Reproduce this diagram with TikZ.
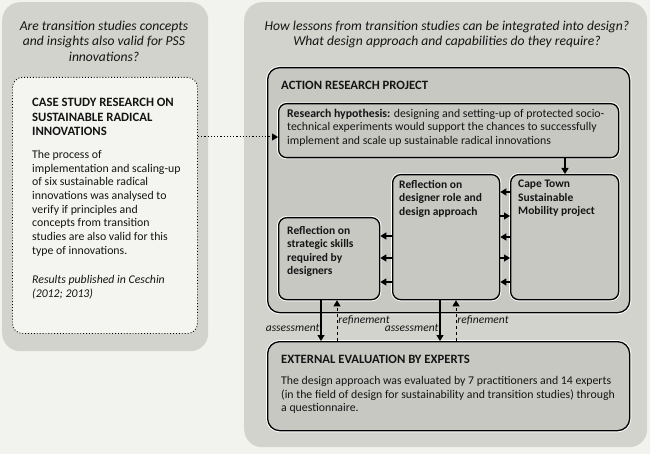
\documentclass[tikz,border=0pt]{standalone}
\usepackage{fontspec}
\setmainfont{Carlito}
\usepackage{tikz}
\usetikzlibrary{arrows.meta}

\definecolor{bgpage}{HTML}{F2F2EE}
\definecolor{panelgray}{HTML}{D3D3CE}
\definecolor{boxgray}{HTML}{C8C8C3}
\definecolor{cardwhite}{HTML}{F4F4F0}
\definecolor{inkdark}{HTML}{141414}

\begin{document}
\begin{tikzpicture}[x=1pt, y=-1pt,
	arr/.style={-{Triangle[length=6pt, width=7pt]}},
	panel/.style={shape=rectangle, fill=panelgray, rounded corners=18pt, anchor=north west, inner sep=0pt},
	box/.style={shape=rectangle, draw=black, line width=1.3pt, fill=boxgray, rounded corners=8pt,
		anchor=north west, inner sep=0pt, preaction={draw=white, line width=3.2pt}},
	txt/.style={anchor=north west, inner sep=0pt, align=left, text=inkdark, font=\fontsize{11.8}{13.7}\selectfont},
	boxtxt/.style={txt, font=\fontsize{11.5}{13.5}\selectfont\bfseries},
	head/.style={anchor=north west, inner sep=0pt, align=left, text=inkdark, font=\fontsize{12.7}{14.5}\selectfont\bfseries},
	question/.style={anchor=north, inner sep=0pt, align=center, text=inkdark, font=\fontsize{13.6}{15.2}\selectfont\itshape},
	tag/.style={inner sep=1pt, text=inkdark, font=\fontsize{11.5}{13}\selectfont\itshape},
	link/.style={line width=1.2pt, draw=black}]

	\useasboundingbox[fill=bgpage] (0, 0) rectangle (650, 454);

	% panels
	\node[panel, minimum width=206pt, minimum height=349pt] (Pleft) at (2, 2) {};
	\node[panel, minimum width=403pt, minimum height=445pt] (Pright) at (244, 2) {};

	\node[question] (Qleft) at (104, 21) {Are transition studies concepts\\and insights also valid for PSS\\innovations?};
	\node[question] (Qright) at (447, 21) {How lessons from transition studies can be integrated into design?\\What design approach and capabilities do they require?};

	% case study
	\node[shape=rectangle, draw=black, line width=0.9pt, dotted, fill=cardwhite, rounded corners=10pt,
		anchor=north west, inner sep=0pt, minimum width=185pt, minimum height=256pt] (Case) at (12, 77) {};
	\node[head] (CaseT) at (32, 98) {CASE STUDY RESEARCH ON\\SUSTAINABLE RADICAL\\INNOVATIONS};
	\node[txt] (CaseB) at (32, 150) {The process of\\implementation and scaling-up\\of six sustainable radical\\innovations was analysed to\\verify if principles and\\concepts from transition\\studies are also valid for this\\type of innovations.};
	\node[txt, font=\fontsize{11.8}{14.5}\selectfont\itshape] (CaseR) at (32, 275) {Results published in Ceschin\\(2012; 2013)};

	% action research
	\node[box, rounded corners=12pt, minimum width=362pt, minimum height=245pt] (Act) at (267, 67) {};
	\node[head] (ActT) at (281, 81) {ACTION RESEARCH PROJECT};

	\node[box, minimum width=340pt, minimum height=54pt] (Hyp) at (278, 103) {};
	\node[txt, font=\fontsize{11.8}{13.5}\selectfont] (HypT) at (287, 109) {\textbf{Research hypothesis:} designing and setting-up of protected socio-\\technical experiments would support the chances to successfully\\implement and scale up sustainable radical innovations};

	\node[box, minimum width=108pt, minimum height=125pt] (Cape) at (510, 174) {};
	\node[boxtxt] (CapeT) at (518, 180) {Cape Town\\Sustainable\\Mobility project};

	\node[box, minimum width=107pt, minimum height=125pt] (Role) at (392, 174) {};
	\node[boxtxt] (RoleT) at (399, 180) {Reflection on\\designer role and\\design approach};

	\node[box, minimum width=101pt, minimum height=82pt] (Skill) at (278, 217) {};
	\node[boxtxt] (SkillT) at (287, 226) {Reflection on\\strategic skills\\required by\\designers};

	% external evaluation
	\node[box, rounded corners=12pt, minimum width=362pt, minimum height=89pt] (Ext) at (267, 341) {};
	\node[head] (ExtT) at (281, 355) {EXTERNAL EVALUATION BY EXPERTS};
	\node[txt] (ExtB) at (281, 376) {The design approach was evaluated by 7 practitioners and 14 experts\\(in the field of design for sustainability and transition studies) through\\a questionnaire.};

	% connectors
	\draw [arr, link, dotted, line width=1pt] (Case.east |- 0, 137) -- (Hyp.west |- 0, 137);
	\draw [arr, link] (Hyp.south -| 565, 0) -- (Cape.north -| 565, 0);

	\foreach \y in {192, 237, 282}
		\draw [arr, link] (Cape.west |- 0, \y) -- (Role.east |- 0, \y);
	\foreach \y in {216, 258}
		\draw [arr, link] (Role.east |- 0, \y) -- (Cape.west |- 0, \y);
	\foreach \y in {236, 258, 282}
		\draw [arr, link] (Role.west |- 0, \y) -- (Skill.east |- 0, \y);

	\draw [arr, link] (Skill.south -| 321, 0) -- node[tag, pos=0.69, anchor=east] {assessment} (Ext.north -| 321, 0);
	\draw [arr, link, dashed, line width=0.9pt] (Ext.north -| 337, 0) -- node[tag, pos=0.52, anchor=west] {refinement} (Skill.south -| 337, 0);
	\draw [arr, link] (Role.south -| 440, 0) -- node[tag, pos=0.69, anchor=east] {assessment} (Ext.north -| 440, 0);
	\draw [arr, link, dashed, line width=0.9pt] (Ext.north -| 456, 0) -- node[tag, pos=0.52, anchor=west] {refinement} (Role.south -| 456, 0);

\end{tikzpicture}
\end{document}
